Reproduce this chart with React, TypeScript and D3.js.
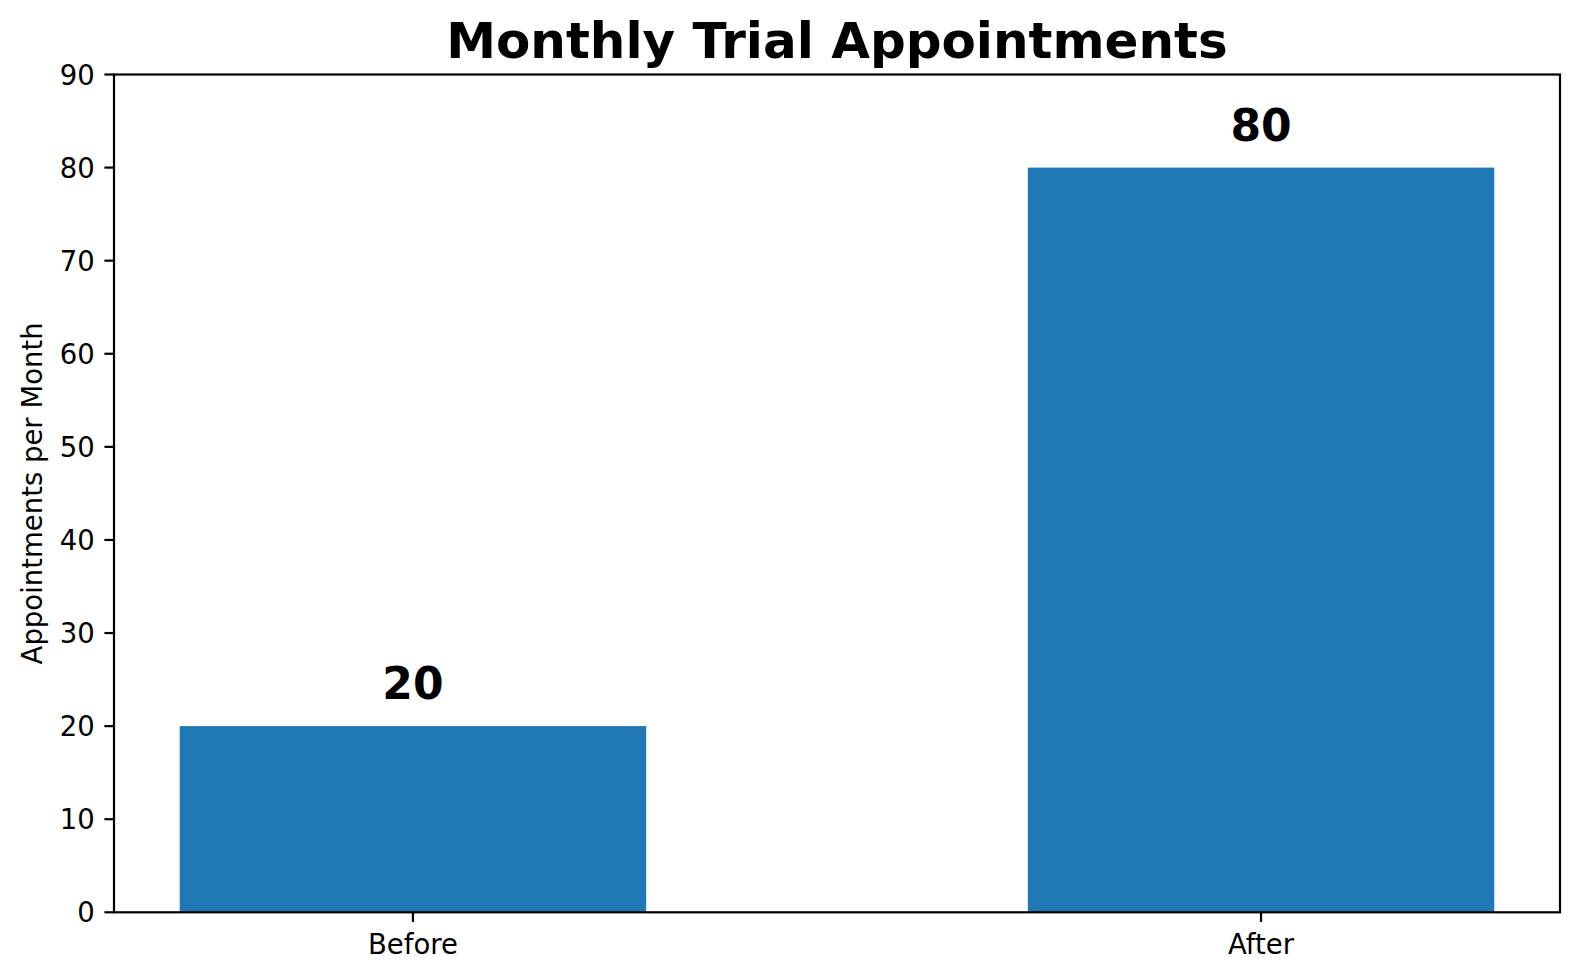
import React from "react";
import * as d3 from "d3";

const categories: string[] = ["Before", "After"];
const values: number[] = [20, 80];
const yTicks: number[] = [0, 10, 20, 30, 40, 50, 60, 70, 80, 90];
const title = "Monthly Trial Appointments";
const yLabel = "Appointments per Month";

const W = 1580;
const H = 980;
const M = { left: 114, right: 1560, top: 74.5, bottom: 912.3 };
const FONT = "DejaVu Sans, sans-serif";
const TICK_FS = 27.5;
const BAR_W = 0.55;

export default function App() {
  const x = d3.scaleLinear().domain([-0.3525, 1.3525]).range([M.left, M.right]);
  const y = d3.scaleLinear().domain([0, 90]).range([M.bottom, M.top]);
  const tickLen = 9.6;
  const pad = 9.6;

  return (
    <svg
      width={W}
      height={H}
      style={{ position: "absolute", left: 0, top: 0, background: "#fff" }}
      fontFamily={FONT}
    >
      <rect x={0} y={0} width={W} height={H} fill="#fff" />
      {/* bars */}
      {values.map((v, i) => (
        <rect
          key={categories[i]}
          x={x(i - BAR_W / 2)}
          y={y(v)}
          width={x(i + BAR_W / 2) - x(i - BAR_W / 2)}
          height={y(0) - y(v)}
          fill="#1f77b4"
        />
      ))}
      {/* value labels */}
      {values.map((v, i) => (
        <text
          key={"v" + i}
          x={x(i)}
          y={y(v) - 27}
          textAnchor="middle"
          fontSize={44}
          fontWeight="bold"
          fill="#000"
        >
          {v}
        </text>
      ))}
      {/* spines */}
      <rect
        x={M.left}
        y={M.top}
        width={M.right - M.left}
        height={M.bottom - M.top}
        fill="none"
        stroke="#000"
        strokeWidth={2.2}
      />
      {/* y ticks */}
      {yTicks.map((t) => (
        <g key={"y" + t}>
          <line x1={M.left - tickLen} x2={M.left} y1={y(t)} y2={y(t)} stroke="#000" strokeWidth={2.2} />
          <text
            x={M.left - tickLen - pad}
            y={y(t) + 0.3645 * TICK_FS}
            textAnchor="end"
            fontSize={TICK_FS}
            fill="#000"
          >
            {t}
          </text>
        </g>
      ))}
      {/* x ticks */}
      {categories.map((c, i) => (
        <g key={"x" + c}>
          <line x1={x(i)} x2={x(i)} y1={M.bottom} y2={M.bottom + tickLen} stroke="#000" strokeWidth={2.2} />
          <text x={x(i)} y={954} textAnchor="middle" fontSize={TICK_FS} fill="#000">
            {c}
          </text>
        </g>
      ))}
      {/* y label */}
      <text
        transform={`translate(41.5, ${(M.top + M.bottom) / 2}) rotate(-90)`}
        textAnchor="middle"
        fontSize={TICK_FS}
        fill="#000"
      >
        {yLabel}
      </text>
      {/* title */}
      <text
        x={(M.left + M.right) / 2}
        y={58}
        textAnchor="middle"
        fontSize={50}
        fontWeight="bold"
        fill="#000"
      >
        {title}
      </text>
    </svg>
  );
}
